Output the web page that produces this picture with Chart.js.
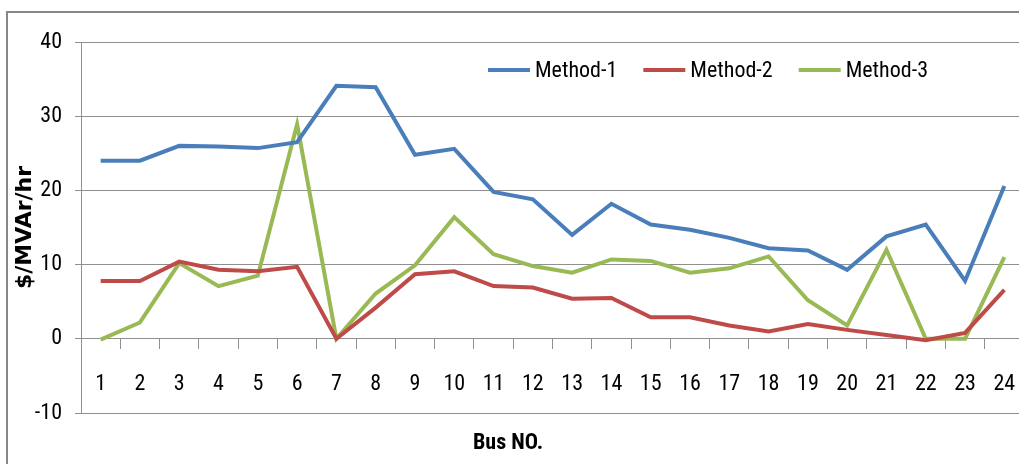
<!DOCTYPE html>
<html>
<head>
<meta charset="utf-8">
<script src="https://cdn.jsdelivr.net/npm/chart.js@4.4.0/dist/chart.umd.min.js"></script>
<style>
  body { margin: 0; background: #fff; }
  #wrap { position: relative; width: 1019px; height: 464px; overflow: hidden; }
  #frame { position: absolute; left: 6px; top: 11px; width: 1100px; height: 600px; border-left: 2px solid #888; border-top: 2px solid #888; }
  #chart { position: absolute; left: 0; top: 0; }
</style>
</head>
<body>
<div id="wrap">
  <div id="frame"></div>
  <canvas id="chart" width="1040" height="464"></canvas>
</div>
<script>
// bus numbers and values
var busNo = ['1','2','3','4','5','6','7','8','9','10','11','12','13','14','15','16','17','18','19','20','21','22','23','24'];
var method1 = [24, 24, 26, 25.9, 25.7, 26.5, 34.1, 33.9, 24.8, 25.6, 19.8, 18.8, 14.0, 18.2, 15.4, 14.7, 13.6, 12.2, 11.9, 9.3, 13.8, 15.4, 7.8, 20.6];
var method2 = [7.8, 7.8, 10.4, 9.3, 9.1, 9.7, 0, 4.2, 8.7, 9.1, 7.1, 6.9, 5.4, 5.5, 2.9, 2.9, 1.8, 1.0, 2.0, 1.2, 0.5, -0.2, 0.8, 6.6];
var method3 = [-0.1, 2.2, 10.2, 7.1, 8.5, 28.9, 0, 6.1, 9.9, 16.4, 11.4, 9.8, 8.9, 10.7, 10.5, 8.9, 9.5, 11.1, 5.2, 1.8, 12.0, 0, 0, 11.0];
var seriesNames = ['Method-1', 'Method-2', 'Method-3'];
var seriesColors = ['#4A7EBB', '#BE4B48', '#98B954'];

var narrow = "'Roboto Condensed', Carlito, sans-serif";
var gridColor = '#8f8f8f';

// legend inside the plot + x title
var legendPlugin = {
    id: 'insideLegend',
    afterDraw: function(chart) {
        var c = chart.ctx;
        c.save();
        c.font = '22px ' + narrow;
        c.textBaseline = 'middle';
        c.textAlign = 'left';
        var x = 488, y = 70;
        chart.data.datasets.forEach(function(ds) {
            c.strokeStyle = ds.borderColor;
            c.lineWidth = 4;
            c.beginPath();
            c.moveTo(x, y);
            c.lineTo(x + 42, y);
            c.stroke();
            c.fillStyle = '#000';
            c.fillText(ds.label, x + 47, y + 1);
            x += 47 + c.measureText(ds.label).width + 26;
        });
        // x axis title
        c.font = 'bold 22px ' + narrow;
        c.textAlign = 'center';
        c.fillText('Bus NO.', 508, 443);
        c.restore();
    }
};

var ctx = document.getElementById('chart').getContext('2d');
var myChart = new Chart(ctx, {
    type: 'line',
    data: {
        labels: busNo,
        datasets: [
            { label: seriesNames[0], data: method1, borderColor: seriesColors[0], borderWidth: 4, pointRadius: 0, tension: 0, fill: false },
            { label: seriesNames[1], data: method2, borderColor: seriesColors[1], borderWidth: 4, pointRadius: 0, tension: 0, fill: false },
            { label: seriesNames[2], data: method3, borderColor: seriesColors[2], borderWidth: 4, pointRadius: 0, tension: 0, fill: false }
        ]
    },
    options: {
        responsive: false,
        animation: false,
        devicePixelRatio: 1,
        layout: { padding: { left: 12, top: 42, right: 16, bottom: 51 } },
        plugins: {
            legend: { display: false },
            tooltip: { enabled: false }
        },
        scales: {
            x: {
                type: 'category',
                position: { y: 0 },
                offset: true,
                grid: { offset: true, drawOnChartArea: false, drawTicks: true, tickLength: 10, color: gridColor, lineWidth: 1 },
                border: { display: true, color: gridColor, width: 1 },
                ticks: { autoSkip: false, maxRotation: 0, padding: 22, color: '#000', font: { family: narrow, size: 22 } }
            },
            y: {
                min: -10,
                max: 40,
                ticks: { stepSize: 10, padding: 13, color: '#000', font: { family: narrow, size: 22 } },
                grid: { color: gridColor, lineWidth: 1, tickLength: 6 },
                border: { display: true, color: gridColor, width: 1 },
                title: { display: true, text: '$/MVAr/hr', color: '#000', padding: 0, font: { family: "'DejaVu Sans', sans-serif", size: 22, weight: 'bold' } },
                afterFit: function(scale) { scale.width = 69; }
            }
        }
    },
    plugins: [legendPlugin]
});
</script>
</body>
</html>
